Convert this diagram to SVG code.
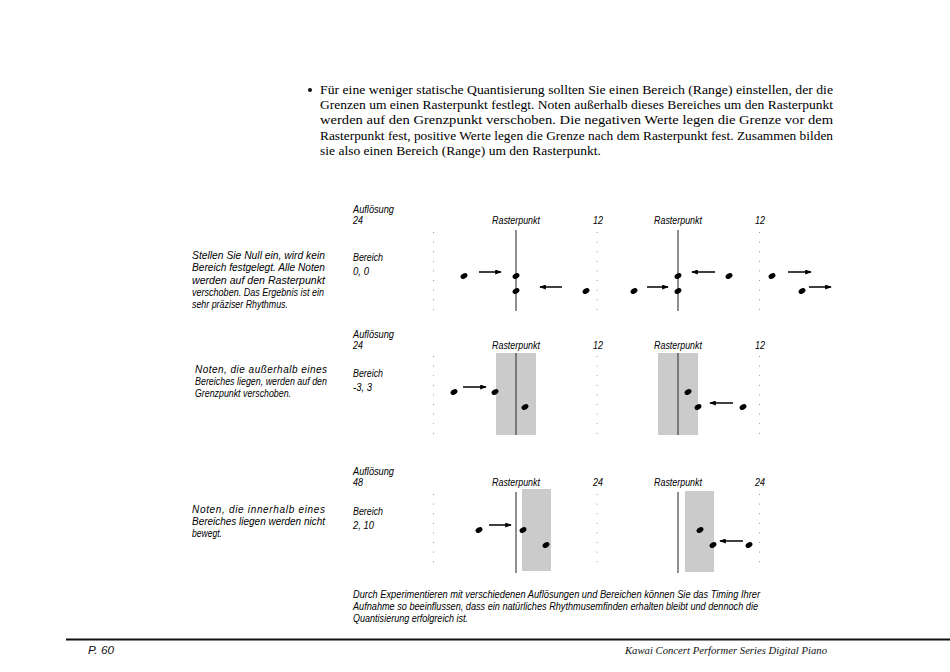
<svg xmlns="http://www.w3.org/2000/svg" width="950" height="672" viewBox="0 0 950 672">
<style>
.para{font-family:"Liberation Serif","DejaVu Serif",serif;font-size:12.5px;fill:#000}
.lab{font-family:"Liberation Sans Narrow","Arial Narrow","Liberation Sans","DejaVu Sans",sans-serif;font-style:italic;font-size:10.5px;fill:#000}
.side{font-family:"Liberation Sans Narrow","Arial Narrow","Liberation Sans","DejaVu Sans",sans-serif;font-style:italic;font-size:10px;fill:#000}
.dots{stroke:#999;stroke-width:1;stroke-dasharray:1 8.6;fill:none}
.grid{stroke:#444;stroke-width:1.2}
.range{fill:#cbcbcb}
.note{fill:#000}
.arr{stroke:#000;stroke-width:1.5;fill:none;marker-end:url(#ah)}
.foot{font-family:"Liberation Serif","DejaVu Serif",serif;font-style:italic;font-size:10.5px;fill:#111}
</style>
<defs>
<marker id="ah" viewBox="0 0 8 6" refX="7" refY="3" markerWidth="7" markerHeight="5" orient="auto" markerUnits="userSpaceOnUse"><path d="M0,0 L8,3 L0,6 z" fill="#000"/></marker>
<ellipse id="n" rx="3.7" ry="2.5" transform="rotate(-30)"/>
</defs>
<rect width="950" height="672" fill="#fff"/>

<g id="intro">
<circle cx="310" cy="90" r="2" fill="#111"/>
<text class="para" x="320" y="94" textLength="513" lengthAdjust="spacingAndGlyphs">Für eine weniger statische Quantisierung sollten Sie einen Bereich (Range) einstellen, der die</text>
<text class="para" x="320" y="109" textLength="513" lengthAdjust="spacingAndGlyphs">Grenzen um einen Rasterpunkt festlegt.  Noten außerhalb dieses Bereiches um den Rasterpunkt</text>
<text class="para" x="320" y="124" textLength="513" lengthAdjust="spacingAndGlyphs">werden auf den Grenzpunkt verschoben.  Die negativen Werte legen die Grenze vor dem</text>
<text class="para" x="320" y="139.5" textLength="513" lengthAdjust="spacingAndGlyphs">Rasterpunkt fest, positive Werte legen die Grenze nach dem Rasterpunkt fest. Zusammen bilden</text>
<text class="para" x="320" y="155" textLength="281" lengthAdjust="spacingAndGlyphs">sie also einen Bereich (Range) um den Rasterpunkt.</text>
</g>

<!-- Row 1 -->
<g id="row1-text">
<text class="side" x="192" y="259" textLength="133" lengthAdjust="spacingAndGlyphs">Stellen Sie Null ein, wird kein</text>
<text class="side" x="192" y="271" textLength="133" lengthAdjust="spacingAndGlyphs">Bereich festgelegt. Alle Noten</text>
<text class="side" x="192" y="284" textLength="133" lengthAdjust="spacingAndGlyphs">werden auf den Rasterpunkt</text>
<text class="side" x="192" y="296" textLength="132" lengthAdjust="spacingAndGlyphs">verschoben. Das Ergebnis ist ein</text>
<text class="side" x="192" y="308" textLength="96" lengthAdjust="spacingAndGlyphs">sehr präziser Rhythmus.</text>
</g>
<g id="row1-labels">
<text class="lab" x="353" y="213" textLength="41" lengthAdjust="spacingAndGlyphs">Auflösung</text>
<text class="lab" x="353" y="224" textLength="10" lengthAdjust="spacingAndGlyphs">24</text>
<text class="lab" x="353" y="261" textLength="30" lengthAdjust="spacingAndGlyphs">Bereich</text>
<text class="lab" x="353" y="275" textLength="16" lengthAdjust="spacingAndGlyphs">0, 0</text>
<text class="lab" x="516" y="224" text-anchor="middle" textLength="48" lengthAdjust="spacingAndGlyphs">Rasterpunkt</text>
<text class="lab" x="598" y="224" text-anchor="middle" textLength="10" lengthAdjust="spacingAndGlyphs">12</text>
<text class="lab" x="678" y="224" text-anchor="middle" textLength="48" lengthAdjust="spacingAndGlyphs">Rasterpunkt</text>
<text class="lab" x="760" y="224" text-anchor="middle" textLength="10" lengthAdjust="spacingAndGlyphs">12</text>
</g>
<g id="row1-grid">
<line class="dots" x1="433.5" y1="232" x2="433.5" y2="310"/>
<line class="dots" x1="597" y1="232" x2="597" y2="310"/>
<line class="dots" x1="759.5" y1="232" x2="759.5" y2="310"/>
<line class="grid" x1="516" y1="230" x2="516" y2="311"/>
<line class="grid" x1="678" y1="230" x2="678" y2="311"/>
</g>
<g id="row1-notes" class="note">
<use href="#n" transform="translate(464,276)"/>
<use href="#n" transform="translate(516,276)"/>
<use href="#n" transform="translate(516,291)"/>
<use href="#n" transform="translate(586,291)"/>
<use href="#n" transform="translate(634,291)"/>
<use href="#n" transform="translate(678,276)"/>
<use href="#n" transform="translate(678,291)"/>
<use href="#n" transform="translate(729,276)"/>
<use href="#n" transform="translate(772,276)"/>
<use href="#n" transform="translate(802,291)"/>
</g>

<!-- Row 2 -->
<g id="row2-text">
<text class="side" x="195" y="373" textLength="132" lengthAdjust="spacing">Noten, die außerhalb eines</text>
<text class="side" x="195" y="385" textLength="132" lengthAdjust="spacingAndGlyphs">Bereiches liegen, werden auf den</text>
<text class="side" x="195" y="397" textLength="96" lengthAdjust="spacingAndGlyphs">Grenzpunkt verschoben.</text>
</g>
<g id="row2-labels">
<text class="lab" x="353" y="338" textLength="41" lengthAdjust="spacingAndGlyphs">Auflösung</text>
<text class="lab" x="353" y="349" textLength="10" lengthAdjust="spacingAndGlyphs">24</text>
<text class="lab" x="353" y="377" textLength="30" lengthAdjust="spacingAndGlyphs">Bereich</text>
<text class="lab" x="353" y="391" textLength="19" lengthAdjust="spacingAndGlyphs">-3, 3</text>
<text class="lab" x="516" y="349" text-anchor="middle" textLength="48" lengthAdjust="spacingAndGlyphs">Rasterpunkt</text>
<text class="lab" x="598" y="349" text-anchor="middle" textLength="10" lengthAdjust="spacingAndGlyphs">12</text>
<text class="lab" x="678" y="349" text-anchor="middle" textLength="48" lengthAdjust="spacingAndGlyphs">Rasterpunkt</text>
<text class="lab" x="760" y="349" text-anchor="middle" textLength="10" lengthAdjust="spacingAndGlyphs">12</text>
</g>
<g id="row2-grid">
<rect class="range" x="496" y="353" width="40" height="82"/>
<rect class="range" x="658" y="353" width="40" height="82"/>
<line class="dots" x1="433.5" y1="356" x2="433.5" y2="434"/>
<line class="dots" x1="597" y1="356" x2="597" y2="434"/>
<line class="dots" x1="759.5" y1="356" x2="759.5" y2="434"/>
<line class="grid" x1="516" y1="353" x2="516" y2="435"/>
<line class="grid" x1="678" y1="353" x2="678" y2="435"/>
</g>
<g id="row2-notes" class="note">
<use href="#n" transform="translate(454,392)"/>
<use href="#n" transform="translate(495,392)"/>
<use href="#n" transform="translate(525,407)"/>
<use href="#n" transform="translate(688,392)"/>
<use href="#n" transform="translate(698,407)"/>
<use href="#n" transform="translate(743,407)"/>
</g>

<!-- Row 3 -->
<g id="row3-text">
<text class="side" x="192" y="513" textLength="133" lengthAdjust="spacing">Noten, die innerhalb eines</text>
<text class="side" x="192" y="525" textLength="133" lengthAdjust="spacingAndGlyphs">Bereiches liegen werden nicht</text>
<text class="side" x="192" y="537" textLength="30" lengthAdjust="spacingAndGlyphs">bewegt.</text>
</g>
<g id="row3-labels">
<text class="lab" x="353" y="475" textLength="41" lengthAdjust="spacingAndGlyphs">Auflösung</text>
<text class="lab" x="353" y="486" textLength="10" lengthAdjust="spacingAndGlyphs">48</text>
<text class="lab" x="353" y="515" textLength="30" lengthAdjust="spacingAndGlyphs">Bereich</text>
<text class="lab" x="353" y="529" textLength="21" lengthAdjust="spacingAndGlyphs">2, 10</text>
<text class="lab" x="516" y="486" text-anchor="middle" textLength="48" lengthAdjust="spacingAndGlyphs">Rasterpunkt</text>
<text class="lab" x="598" y="486" text-anchor="middle" textLength="10" lengthAdjust="spacingAndGlyphs">24</text>
<text class="lab" x="678" y="486" text-anchor="middle" textLength="48" lengthAdjust="spacingAndGlyphs">Rasterpunkt</text>
<text class="lab" x="760" y="486" text-anchor="middle" textLength="10" lengthAdjust="spacingAndGlyphs">24</text>
</g>
<g id="row3-grid">
<rect class="range" x="522" y="489" width="29" height="82"/>
<rect class="range" x="685" y="491" width="29" height="81"/>
<line class="dots" x1="433.5" y1="494" x2="433.5" y2="571"/>
<line class="dots" x1="597" y1="494" x2="597" y2="571"/>
<line class="dots" x1="759.5" y1="494" x2="759.5" y2="571"/>
<line class="grid" x1="516" y1="492" x2="516" y2="573"/>
<line class="grid" x1="678" y1="492" x2="678" y2="573"/>
</g>
<g id="row3-notes" class="note">
<use href="#n" transform="translate(479,530)"/>
<use href="#n" transform="translate(523,530)"/>
<use href="#n" transform="translate(546,545)"/>
<use href="#n" transform="translate(700,530)"/>
<use href="#n" transform="translate(713,545)"/>
<use href="#n" transform="translate(749,545)"/>
</g>

<g id="connectors">
<line class="arr" x1="479" y1="272" x2="501" y2="272"/>
<line class="arr" x1="562" y1="287" x2="540" y2="287"/>
<line class="arr" x1="647" y1="287" x2="668" y2="287"/>
<line class="arr" x1="715" y1="272" x2="692" y2="272"/>
<line class="arr" x1="788" y1="272" x2="811" y2="272"/>
<line class="arr" x1="809" y1="287" x2="831" y2="287"/>
<line class="arr" x1="463" y1="387" x2="486" y2="387"/>
<line class="arr" x1="733" y1="403" x2="710" y2="403"/>
<line class="arr" x1="489" y1="525" x2="511" y2="525"/>
<line class="arr" x1="743" y1="541" x2="720" y2="541"/>
</g>

<g id="summary">
<text class="side" x="353" y="598" textLength="407" lengthAdjust="spacingAndGlyphs">Durch Experimentieren mit verschiedenen Auflösungen und Bereichen können Sie das Timing Ihrer</text>
<text class="side" x="353" y="610" textLength="405" lengthAdjust="spacingAndGlyphs">Aufnahme so beeinflussen, dass ein natürliches Rhythmusemfinden erhalten bleibt und dennoch die</text>
<text class="side" x="353" y="622" textLength="115" lengthAdjust="spacingAndGlyphs">Quantisierung erfolgreich ist.</text>
</g>

<g id="footer">
<line x1="66" y1="639.5" x2="950" y2="639.5" stroke="#111" stroke-width="2"/>
<text x="88" y="654" font-family="Liberation Sans Narrow, Arial Narrow, Liberation Sans, sans-serif" font-style="italic" font-size="10.5" fill="#111" textLength="26" lengthAdjust="spacingAndGlyphs">P. 60</text>
<text class="foot" x="625" y="654" textLength="202" lengthAdjust="spacingAndGlyphs">Kawai Concert Performer Series Digital Piano</text>
</g>
</svg>
